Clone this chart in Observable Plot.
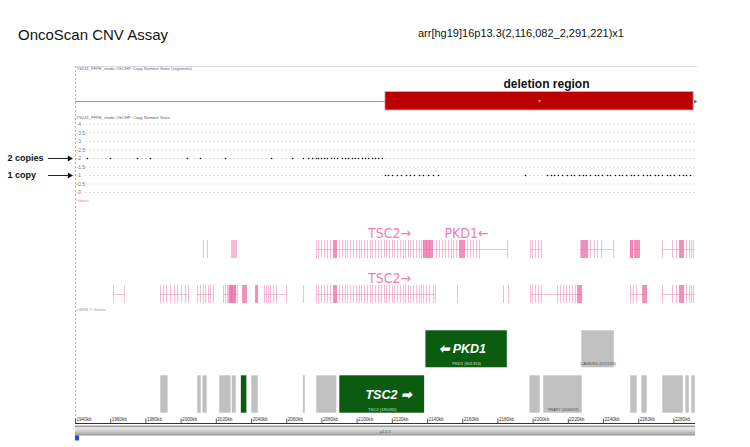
<!DOCTYPE html>
<html><head><meta charset="utf-8">
<script src="https://cdn.jsdelivr.net/npm/d3@7"></script>
<script src="https://cdn.jsdelivr.net/npm/@observablehq/plot@0.6"></script>
<style>
body{margin:0;background:#fff;font-family:"Liberation Sans",Arial,sans-serif;}
#hdr{position:relative;width:750px;height:58px;}
#t1{position:absolute;left:18px;top:27px;font-size:15px;line-height:15px;color:#111;white-space:nowrap;}
#t2{position:absolute;left:418px;top:28px;font-size:11px;line-height:11px;color:#111;white-space:nowrap;}
#chart svg{display:block}
</style></head><body>
<div id="hdr"><span id="t1">OncoScan CNV Assay</span><span id="t2">arr[hg19]16p13.3(2,116,082_2,291,221)x1</span></div>
<div id="chart"></div>
<script>
// ---------- data (positions in kb, chr16 hg19) ----------
const tickKb = [1940,1960,1980,2000,2020,2040,2060,2080,2100,2120,2140,2160,2180,2200,2220,2240,2260,2280];
const cnLevels = [4,3.5,3,2.5,2,1.5,1,0.5,0];
const normalSegment = {start: 1940, end: 2116.082, cn: 2};
const deletionSegment = {start: 2116.082, end: 2291.221, cn: 1};
const probesCN2 = [1946.8,1959.9,1975.2,1982.6,2003.6,2011.0,2025.2,2051.4,2063.3,2069.5,2072.4,2074.7,2076.9,2078.1,2079.8,2081.5,2083.2,2085.5,2087.2,2088.9,2091.7,2093.4,2095.1,2097.4,2099.1,2100.8,2103.1,2104.8,2106.5,2108.8,2110.5,2112.2,2114.4];
const probesCN1 = [2116.1,2117.8,2120.1,2122.9,2125.2,2128.1,2130.3,2132.6,2135.5,2137.7,2140.6,2143.4,2146.3,2195.7,2208.2,2210.5,2212.2,2214.4,2216.7,2219.5,2221.8,2223.5,2226.4,2228.6,2230.3,2232.6,2235.5,2237.2,2239.4,2242.3,2244.0,2246.8,2249.1,2250.8,2253.1,2255.9,2257.6,2259.9,2262.7,2265.0,2266.7,2269.5,2271.3,2273.5,2276.4,2278.1,2280.3,2283.2,2285.5,2287.2,2289.5];

// RefSeq-like gene track (upper pink track)
const tsc2Exons = [2076.9,2078.1,2079.8,2081.5,2083.2,2084.9,2090.0,2091.7,2093.4,2094.5,2096.3,2098.0,2099.7,2101.4,2102.5,2104.2,2105.9,2107.6,2108.8,2110.5,2112.2,2113.9,2115.6,2116.7,2118.4,2120.1,2121.3,2123.0,2124.7,2126.4,2127.5,2129.2,2130.3,2132.0,2133.8,2135.5,2136.6,2137.7];
const pkd1Exons = [2139.4,2141.1,2145.1,2146.8,2148.5,2150.2,2151.9,2153.6,2154.8,2156.5,2162.7,2164.4,2166.1,2167.8,2169.5,2185.5];
const refTranscripts = [[2076.9,2185.5],[2198.5,2204.8],[2226.9,2245.7],[2255.3,2261.0],[2273.5,2292.3]];
const refExonLines = [2012.7,2015.0,2028.6,2029.2,2029.8,2030.3,2030.9,2031.5,2198.5,2199.7,2201.4,2203.1,2204.8,2226.9,2232.6,2234.9,2236.6,2238.9,2245.7,2255.3,2256.5,2273.5,2279.2,2281.5,2287.2,2288.9,2290.0,2291.1];
const refExonBlocks = [[2086.6,2088.9],[2137.7,2143.4],[2158.2,2161.6],[2227.5,2231.5],[2255.3,2257.0],[2257.6,2261.0],[2283.2,2286.0]];

// OMIM-like gene track (lower pink track)
const omimTranscripts = [[1961.6,1967.8],[1988.3,2004.2],[2009.3,2018.4],[2024.1,2032.0],[2047.4,2059.9],[2076.9,2144.5],[2198.5,2228.1],[2255.3,2265.0],[2273.5,2292.3]];
const omimExonLines = [1961.6,1967.8,1988.3,1990.0,1991.7,1994.0,1996.3,1998.0,2000.2,2002.5,2004.2,2009.3,2011.0,2012.7,2013.9,2015.6,2016.7,2018.4,2024.1,2025.2,2026.4,2026.9,2028.1,2028.6,2029.2,2030.3,2030.9,2032.0,2047.4,2048.5,2049.7,2050.8,2052.5,2054.2,2059.9,2069.5,2139.4,2141.1,2143.4,2144.5,2157.0,2183.2,2186.0,2198.5,2199.7,2201.4,2203.1,2204.8,2213.9,2215.6,2217.3,2219.0,2220.7,2222.4,2224.1,2255.3,2257.0,2258.8,2273.5,2279.2,2281.5,2287.2,2288.9,2290.0,2291.1];
const omimExonBlocks = [[2027.5,2031.5],[2034.9,2037.7],[2042.3,2044.0],[2086.6,2088.9],[2225.2,2228.1],[2262.2,2265.0],[2283.2,2286.0]];

// OMIM gene boxes
const boxesTop = [
  {gene: "PKD1", start: 2138.9, end: 2185.5, mim: "601313", morbid: true, dir: "left"},
  {gene: "CASKIN1", start: 2227.5, end: 2246.3, mim: "612184", morbid: false}
];
const boxesBottom = [
  {gene: "", start: 1988.3, end: 1992.8}, {gene: "", start: 2009.3, end: 2011.6},
  {gene: "", start: 2012.2, end: 2015.0}, {gene: "", start: 2021.8, end: 2028.6},
  {gene: "", start: 2028.9, end: 2031.5}, {gene: "", start: 2034.1, end: 2037.6, morbid: true},
  {gene: "", start: 2040.0, end: 2044.0}, {gene: "", start: 2069.4, end: 2070.7},
  {gene: "", start: 2076.9, end: 2088.7},
  {gene: "TSC2", start: 2090.0, end: 2138.5, mim: "191092", morbid: true, dir: "right"},
  {gene: "", start: 2198.0, end: 2204.2},
  {gene: "TRAF7", start: 2205.9, end: 2228.1, mim: "606692"},
  {gene: "", start: 2255.3, end: 2259.3}, {gene: "", start: 2261.6, end: 2265.0},
  {gene: "", start: 2273.5, end: 2285.5}, {gene: "", start: 2286.6, end: 2288.9},
  {gene: "", start: 2290.0, end: 2292.3}
];

// ---------- layout ----------
const X0 = 1940, X1 = 2293;
const cnY = v => 192 - 17 * v;          // copy-number row mapping (page px)
const PINK = "#ef7fb2", PINKD = "#ec5fa0";
const GREEN = "#0b5c10", GRAY = "#c0c0c0";
const tiny = {fontSize: 4.2, fill: "#666"};

const refLines = [...refExonLines, ...tsc2Exons, ...pkd1Exons];
const omimLines = [...omimExonLines, ...tsc2Exons];

const band = [
  {y1: 425.5, y2: 427, c: "#9c9c9c"}, {y1: 427, y2: 429.5, c: "#e2e2e2"},
  {y1: 429.5, y2: 432, c: "#cdcdcd"}, {y1: 432, y2: 434, c: "#b8b8b8"}, {y1: 434, y2: 435.5, c: "#9e9e9e"}
];

const chart = Plot.plot({
  width: 750, height: 389,
  marginLeft: 75, marginRight: 53.7, marginTop: 0, marginBottom: 0,
  x: {domain: [X0, X1], axis: null},
  y: {domain: [447, 58], axis: null},
  style: {fontFamily: "Liberation Sans, Arial, sans-serif", background: "white", overflow: "visible"},
  marks: [
    // frame lines
    Plot.ruleY([66], {x1: X0, x2: X1 + 0.5, stroke: "#d6d6ec", strokeWidth: 1}),
    Plot.ruleX([X0], {y1: 66, y2: 441, stroke: "#aeb0e6", strokeDasharray: "2,2", strokeWidth: 1}),
    Plot.text(["TS241_FFPE_mode OSCHP: Copy Number State (segments)"], {x: X0, y: 68.5, dx: 1, textAnchor: "start", ...tiny}),
    // segments track
    Plot.ruleY([normalSegment], {x1: "start", x2: "end", y: 101, stroke: "#9a9a9a", strokeWidth: 1.2}),
    Plot.rect([deletionSegment], {x1: "start", x2: "end", y1: 91.5, y2: 110, fill: "#bb0000", stroke: "#e2a9a9", strokeWidth: 0.8}),
    Plot.text(["\u25BE"], {x: 2203.6, y: 101, fontSize: 6, fill: "#e08a8a"}),
    Plot.dot([deletionSegment], {x: "end", y: 101, dx: 1.5, symbol: "triangle", rotate: 90, r: 1.3, fill: "#3a40c0", stroke: null}),
    Plot.text(["deletion region"], {x: 2207.6, y: 84, fontSize: 12, fontWeight: "bold", fill: "#111"}),
    // copy-number state track
    Plot.text(["TS241_FFPE_mode OSCHP: Copy Number State"], {x: X0, y: 117.5, dx: 1, textAnchor: "start", ...tiny}),
    Plot.ruleY(cnLevels, {y: cnY, x1: 1946, x2: X1, stroke: "#8f8f8f", strokeWidth: 0.7, strokeDasharray: "0.8,3.2"}),
    Plot.text(cnLevels, {x: X0, y: cnY, text: d => "-" + d, dx: 1, textAnchor: "start", fontSize: 5, fill: "#777"}),
    Plot.dot(probesCN2, {x: d => d, y: cnY(normalSegment.cn), r: 0.8, fill: "#111", stroke: null}),
    Plot.dot(probesCN1, {x: d => d, y: cnY(deletionSegment.cn), r: 0.8, fill: "#111", stroke: null}),
    Plot.text(["Genes"], {x: X0, y: 200, dx: 1, textAnchor: "start", fontSize: 4.2, fill: "#e87fb0"}),
    // left annotations
    Plot.text(["2 copies"], {frameAnchor: "left", y: cnY(2), dx: -68, textAnchor: "start", fontSize: 9, fontWeight: "bold", fill: "#111"}),
    Plot.text(["1 copy"], {frameAnchor: "left", y: cnY(1), dx: -68, textAnchor: "start", fontSize: 9, fontWeight: "bold", fill: "#111"}),
    Plot.ruleY([2, 1], {y: cnY, x1: 1924.7, x2: 1936.4, stroke: "#222", strokeWidth: 1}),
    Plot.dot([2, 1], {y: cnY, x: 1936.6, symbol: "triangle", rotate: 90, r: 2.2, fill: "#111", stroke: null}),
    // upper pink gene track
    Plot.ruleY(refTranscripts, {y: 249, x1: d => d[0], x2: d => d[1], stroke: PINK, strokeOpacity: 0.5, strokeWidth: 1}),
    Plot.ruleX(refLines, {x: d => d, y1: 240, y2: 258, stroke: PINK, strokeOpacity: 0.55, strokeWidth: 1}),
    Plot.rect(refExonBlocks, {x1: d => d[0], x2: d => d[1], y1: 240, y2: 258, fill: PINKD, fillOpacity: 0.7}),
    Plot.text(["TSC2\u2192"], {x: 2118.4, y: 233, fontSize: 13, fill: PINK}),
    Plot.text(["PKD1\u2190"], {x: 2162.2, y: 233, fontSize: 13, fill: PINK}),
    // lower pink gene track
    Plot.ruleY(omimTranscripts, {y: 294, x1: d => d[0], x2: d => d[1], stroke: PINK, strokeOpacity: 0.5, strokeWidth: 1}),
    Plot.ruleX(omimLines, {x: d => d, y1: 285, y2: 303, stroke: PINK, strokeOpacity: 0.55, strokeWidth: 1}),
    Plot.rect(omimExonBlocks, {x1: d => d[0], x2: d => d[1], y1: 285, y2: 303, fill: PINKD, fillOpacity: 0.7}),
    Plot.text(["TSC2\u2192"], {x: 2118.4, y: 278, fontSize: 13, fill: PINK}),
    Plot.text(["OMIM \u00AE Genes"], {x: X0, y: 309, dx: 1, textAnchor: "start", ...tiny, fill: "#999"}),
    // OMIM boxes
    Plot.rect(boxesTop, {x1: "start", x2: "end", y1: 330, y2: 367.7, fill: d => d.morbid ? GREEN : GRAY, stroke: "white", strokeWidth: 0.6}),
    Plot.rect(boxesBottom, {x1: "start", x2: "end", y1: 375, y2: 413, fill: d => d.morbid ? GREEN : GRAY, stroke: "white", strokeWidth: 0.6}),
    Plot.text(boxesTop.filter(d => d.dir), {x: d => (d.start + d.end) / 2, y: 348, dx: -4, text: d => d.dir === "left" ? "\u2B05 " + d.gene : d.gene + " \u27A1", fontSize: 12.5, fontWeight: "bold", fontStyle: "italic", fill: "white"}),
    Plot.text(boxesBottom.filter(d => d.dir), {x: d => (d.start + d.end) / 2, y: 394.5, dx: 6, text: d => d.dir === "left" ? "\u2B05 " + d.gene : d.gene + " \u27A1", fontSize: 12.5, fontWeight: "bold", fontStyle: "italic", fill: "white"}),
    Plot.text(boxesTop.filter(d => d.mim), {x: d => (d.start + d.end) / 2, y: 363.5, text: d => `${d.gene} (${d.mim})`, fontSize: 4.2, fill: d => d.morbid ? "#cfe0cf" : "#555"}),
    Plot.text(boxesBottom.filter(d => d.mim), {x: d => (d.start + d.end) / 2, y: 409, text: d => `${d.gene} (${d.mim})`, fontSize: 4.2, fill: d => d.morbid ? "#cfe0cf" : "#555"}),
    // coordinate axis
    Plot.ruleY([423], {x1: X0, x2: 2292.3, stroke: "#333", strokeWidth: 1}),
    Plot.ruleX(tickKb, {x: d => d, y1: 418.5, y2: 423, stroke: "#333", strokeWidth: 0.8}),
    Plot.text(tickKb, {x: d => d, y: 419, dx: 1, text: d => d + "kb", textAnchor: "start", fontSize: 4.6, fill: "#333"}),
    // ideogram band
    Plot.rect(band, {x1: X0, x2: 2292.3, y1: "y1", y2: "y2", fill: "c"}),
    Plot.text(["p13.3"], {x: 2116, y: 431, fontSize: 4.2, fill: "#555"}),
    Plot.rect([X0], {x1: X0, x2: 1942.3, y1: 435.5, y2: 440.5, fill: "#3442c8"})
  ]
});
// narrow, tall gene-name labels like the browser's condensed font
d3.select(chart).selectAll("text")
  .filter(function () { return /[\u2192\u2190]/.test(this.textContent); })
  .style("font-family", "'DejaVu Sans', sans-serif")
  .style("font-stretch", "condensed")
  .style("font-size", "14px");
document.getElementById("chart").appendChild(chart);
</script>
</body></html>
